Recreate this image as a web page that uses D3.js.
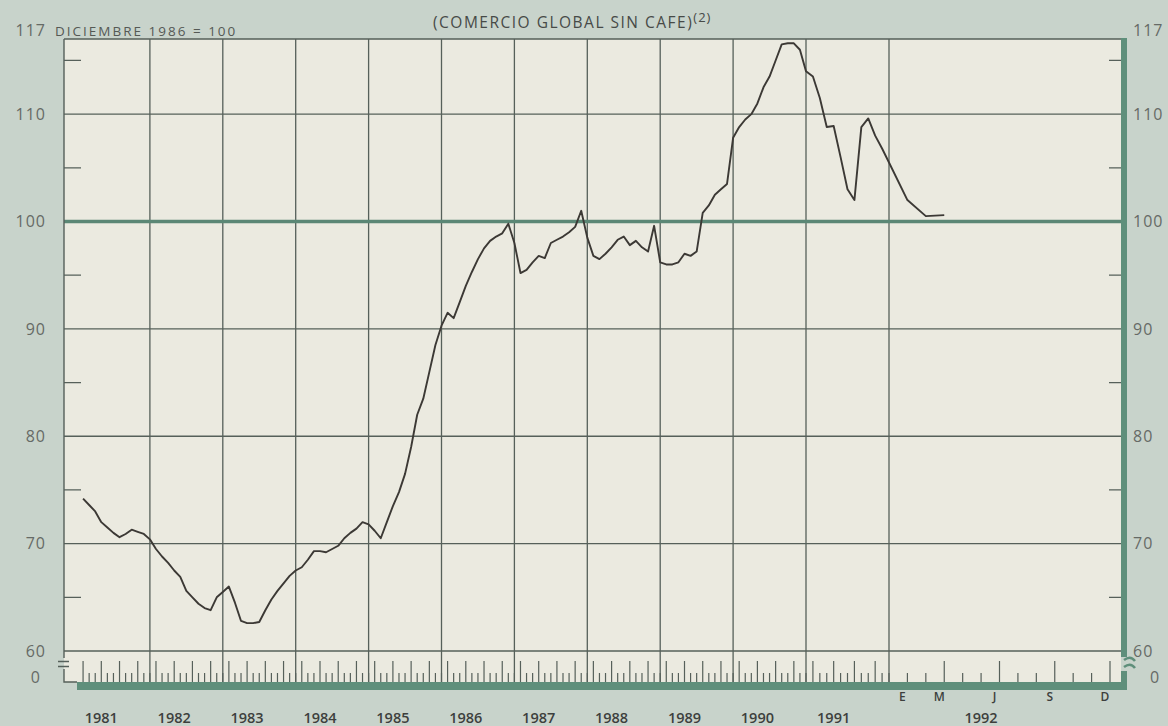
<!DOCTYPE html>
<html lang="es">
<head>
<meta charset="UTF-8">
<script src="https://d3js.org/d3.v7.min.js"></script>
<title>Comercio global sin cafe</title>
<style>
    body { margin: 0; background: #c8d3cb; }
    svg { display: block; font-family: "Open Sans", sans-serif; }
</style>
</head>
<body>
<div id="draw_here"></div>
<script>

// monthly index values, Dec 1986 = 100
var v1981 = [74.2, 73.6, 73.0, 72.0, 71.5, 71.0, 70.6, 70.9, 71.3, 71.1, 70.9, 70.4];
var v1982 = [69.5, 68.8, 68.2, 67.5, 66.9, 65.6, 65.0, 64.4, 64.0, 63.8, 65.0, 65.5];
var v1983 = [66.0, 64.5, 62.8, 62.6, 62.6, 62.7, 63.8, 64.8, 65.6, 66.3, 67.0, 67.5];
var v1984 = [67.8, 68.5, 69.3, 69.3, 69.2, 69.5, 69.8, 70.5, 71.0, 71.4, 72.0, 71.8];
var v1985 = [71.2, 70.5, 72.0, 73.5, 74.8, 76.5, 79.0, 82.0, 83.5, 86.0, 88.5, 90.3];
var v1986 = [91.5, 91.0, 92.5, 94.0, 95.3, 96.5, 97.5, 98.2, 98.6, 98.9, 99.8, 98.0];
var v1987 = [95.2, 95.5, 96.2, 96.8, 96.6, 98.0, 98.3, 98.6, 99.0, 99.5, 101.0, 98.5];
var v1988 = [96.8, 96.5, 97.0, 97.6, 98.3, 98.6, 97.8, 98.2, 97.6, 97.2, 99.6, 96.2];
var v1989 = [96.0, 96.0, 96.2, 97.0, 96.8, 97.2, 100.8, 101.5, 102.5, 103.0, 103.5, 107.8];
var v1990 = [108.8, 109.5, 110.0, 111.0, 112.5, 113.5, 115.0, 116.5, 116.6, 116.6, 116.0, 114.0];
var v1991 = [113.5, 111.5, 108.8, 108.9, 106.0, 103.0, 102.0, 108.8, 109.6, 108.0, 106.8, 105.5];
var v1992 = [102.0, 100.5, 100.6];

var years = ["1981", "1982", "1983", "1984", "1985", "1986", "1987", "1988", "1989", "1990", "1991", "1992"];
var monthLabels = ["E", "M", "J", "S", "D"];
var monthLabelNums = [1, 3, 6, 9, 12];
var yTicks = [60, 70, 80, 90, 100, 110, 117];
var yMinor = [65, 75, 85, 95, 105, 115];

var width = 1168;
var height = 726;
var plot = {left: 64, right: 1121, top: 39, base: 682};

var series = [].concat(v1981, v1982, v1983, v1984, v1985, v1986, v1987, v1988, v1989, v1990, v1991, v1992);
var data = series.map((v, i) => ({k: i + 1, value: v}));

// months since dec 1980; 1992 is drawn on a wider scale
var x = d3.scaleLinear()
    .domain([0, 120, 132, 144])
    .range([77, 806, 889, 1110]);

var y = d3.scaleLinear()
    .domain([60, 117])
    .range([651, 39]);

var svg = d3.select("#draw_here")
    .append("svg")
    .attr("width", width)
    .attr("height", height);

svg.append("rect")
    .attr("width", width).attr("height", height)
    .attr("fill", "#c8d3cb");

svg.append("rect")
    .attr("x", plot.left).attr("y", plot.top)
    .attr("width", plot.right - plot.left)
    .attr("height", plot.base - plot.top)
    .attr("fill", "#ebeae0");

// vertical year grid
svg.append("g")
    .attr("stroke", "#56605a")
    .attr("stroke-width", 1.3)
    .selectAll("line")
    .data(d3.range(1, 12))
    .join("line")
    .attr("x1", d => x(d * 12)).attr("x2", d => x(d * 12))
    .attr("y1", plot.top).attr("y2", plot.base);

// horizontal grid
svg.append("g")
    .selectAll("line")
    .data(yTicks.filter(d => d < 117))
    .join("line")
    .attr("x1", plot.left).attr("x2", plot.right)
    .attr("y1", d => y(d)).attr("y2", d => y(d))
    .attr("stroke", d => d === 100 ? "#5b8775" : "#56605a")
    .attr("stroke-width", d => d === 100 ? 3.5 : 1.3);

// half-step ticks on both sides
svg.append("g")
    .attr("stroke", "#56605a")
    .attr("stroke-width", 1.3)
    .selectAll("path")
    .data(yMinor)
    .join("path")
    .attr("d", d => `M${plot.left},${y(d)}h17M${plot.right - 12},${y(d)}h12`);

// month ticks
var monthTicks = d3.range(1, 145);
svg.append("g")
    .attr("stroke", "#56605a")
    .attr("stroke-width", 1.2)
    .selectAll("line")
    .data(monthTicks)
    .join("line")
    .attr("x1", d => x(d)).attr("x2", d => x(d))
    .attr("y1", plot.base)
    .attr("y2", d => {
        var longTick = d > 132 ? (d - 132) % 3 === 0 : d % 3 === 1;
        return plot.base - (longTick ? 21 : 9);
    });

// frame
svg.append("path")
    .attr("d", `M${plot.left},${plot.top}H${plot.right}M${plot.left},${plot.top}V658M58,661.5h11M58,666.5h11M${plot.left},669V${plot.base}H${x(0)}`)
    .attr("fill", "none")
    .attr("stroke", "#56605a")
    .attr("stroke-width", 1.4);

svg.append("path")
    .attr("d", `M${plot.right + 3},${plot.top - 1}V657M${plot.right + 3},671V690`)
    .attr("stroke", "#5f8f7b")
    .attr("stroke-width", 6);

svg.append("path")
    .attr("d", "M1124,660c4,-3 8,-3 11,1M1124,667c4,-3 8,-3 11,1")
    .attr("fill", "none")
    .attr("stroke", "#5f8f7b")
    .attr("stroke-width", 2.5);

svg.append("line")
    .attr("x1", x(0)).attr("x2", plot.right + 6)
    .attr("y1", plot.base + 4).attr("y2", plot.base + 4)
    .attr("stroke", "#5f8f7b")
    .attr("stroke-width", 8);

// y axis labels, both sides
var yAxisLeft = d3.axisLeft(y).tickValues(yTicks).tickSize(0).tickPadding(0);
var yAxisRight = d3.axisRight(y).tickValues(yTicks).tickSize(0).tickPadding(0);

function styleAxis(g) {
    g.select(".domain").remove();
    g.selectAll("text")
        .attr("font-family", "Open Sans, sans-serif")
        .attr("font-size", 16)
        .attr("letter-spacing", 1)
        .attr("fill", "#666a66")
        .attr("dy", d => d === 117 ? "-0.25em" : "0.32em");
}

svg.append("g")
    .attr("transform", "translate(46,0)")
    .call(yAxisLeft)
    .call(styleAxis);

svg.append("g")
    .attr("transform", "translate(1133,0)")
    .call(yAxisRight)
    .call(styleAxis);

// broken-axis zero
svg.selectAll(".zero")
    .data([{x: 40, anchor: "end"}, {x: 1150, anchor: "start"}])
    .join("text")
    .attr("class", "zero")
    .attr("x", d => d.x)
    .attr("y", plot.base - 4)
    .attr("dy", "0.32em")
    .attr("text-anchor", d => d.anchor)
    .attr("font-size", 16)
    .attr("fill", "#666a66")
    .text("0");

// year labels
svg.append("g")
    .selectAll("text")
    .data(years)
    .join("text")
    .attr("x", (d, i) => i < 11 ? x(i * 12 + 4) : x(137))
    .attr("y", 723)
    .attr("text-anchor", "middle")
    .attr("font-size", 14.5)
    .attr("font-weight", 600)
    .attr("fill", "#3d3f3d")
    .text(d => d);

// 1992 month letters
svg.append("g")
    .selectAll("text")
    .data(monthLabels)
    .join("text")
    .attr("x", (d, i) => x(132 + monthLabelNums[i]) - 5)
    .attr("y", 701)
    .attr("text-anchor", "middle")
    .attr("font-size", 12)
    .attr("font-weight", 600)
    .attr("fill", "#3d3f3d")
    .text(d => d);

// header texts
svg.append("text")
    .attr("x", 55).attr("y", 36)
    .attr("font-size", 13.5)
    .attr("letter-spacing", 2)
    .attr("fill", "#555955")
    .text("DICIEMBRE 1986 = 100");

var title = svg.append("text")
    .attr("x", 433).attr("y", 28)
    .attr("font-size", 15.5)
    .attr("letter-spacing", 1.5)
    .attr("fill", "#474a47")
    .text("(COMERCIO GLOBAL SIN CAFE)");
title.append("tspan")
    .attr("dy", -6)
    .attr("font-size", 13)
    .attr("letter-spacing", 1)
    .text("(2)");

// the series
var line = d3.line()
    .x(d => x(d.k))
    .y(d => y(d.value));

svg.append("path")
    .datum(data)
    .attr("fill", "none")
    .attr("stroke", "#3c3935")
    .attr("stroke-width", 1.9)
    .attr("stroke-linejoin", "round")
    .attr("d", line);

</script>
</body>
</html>
